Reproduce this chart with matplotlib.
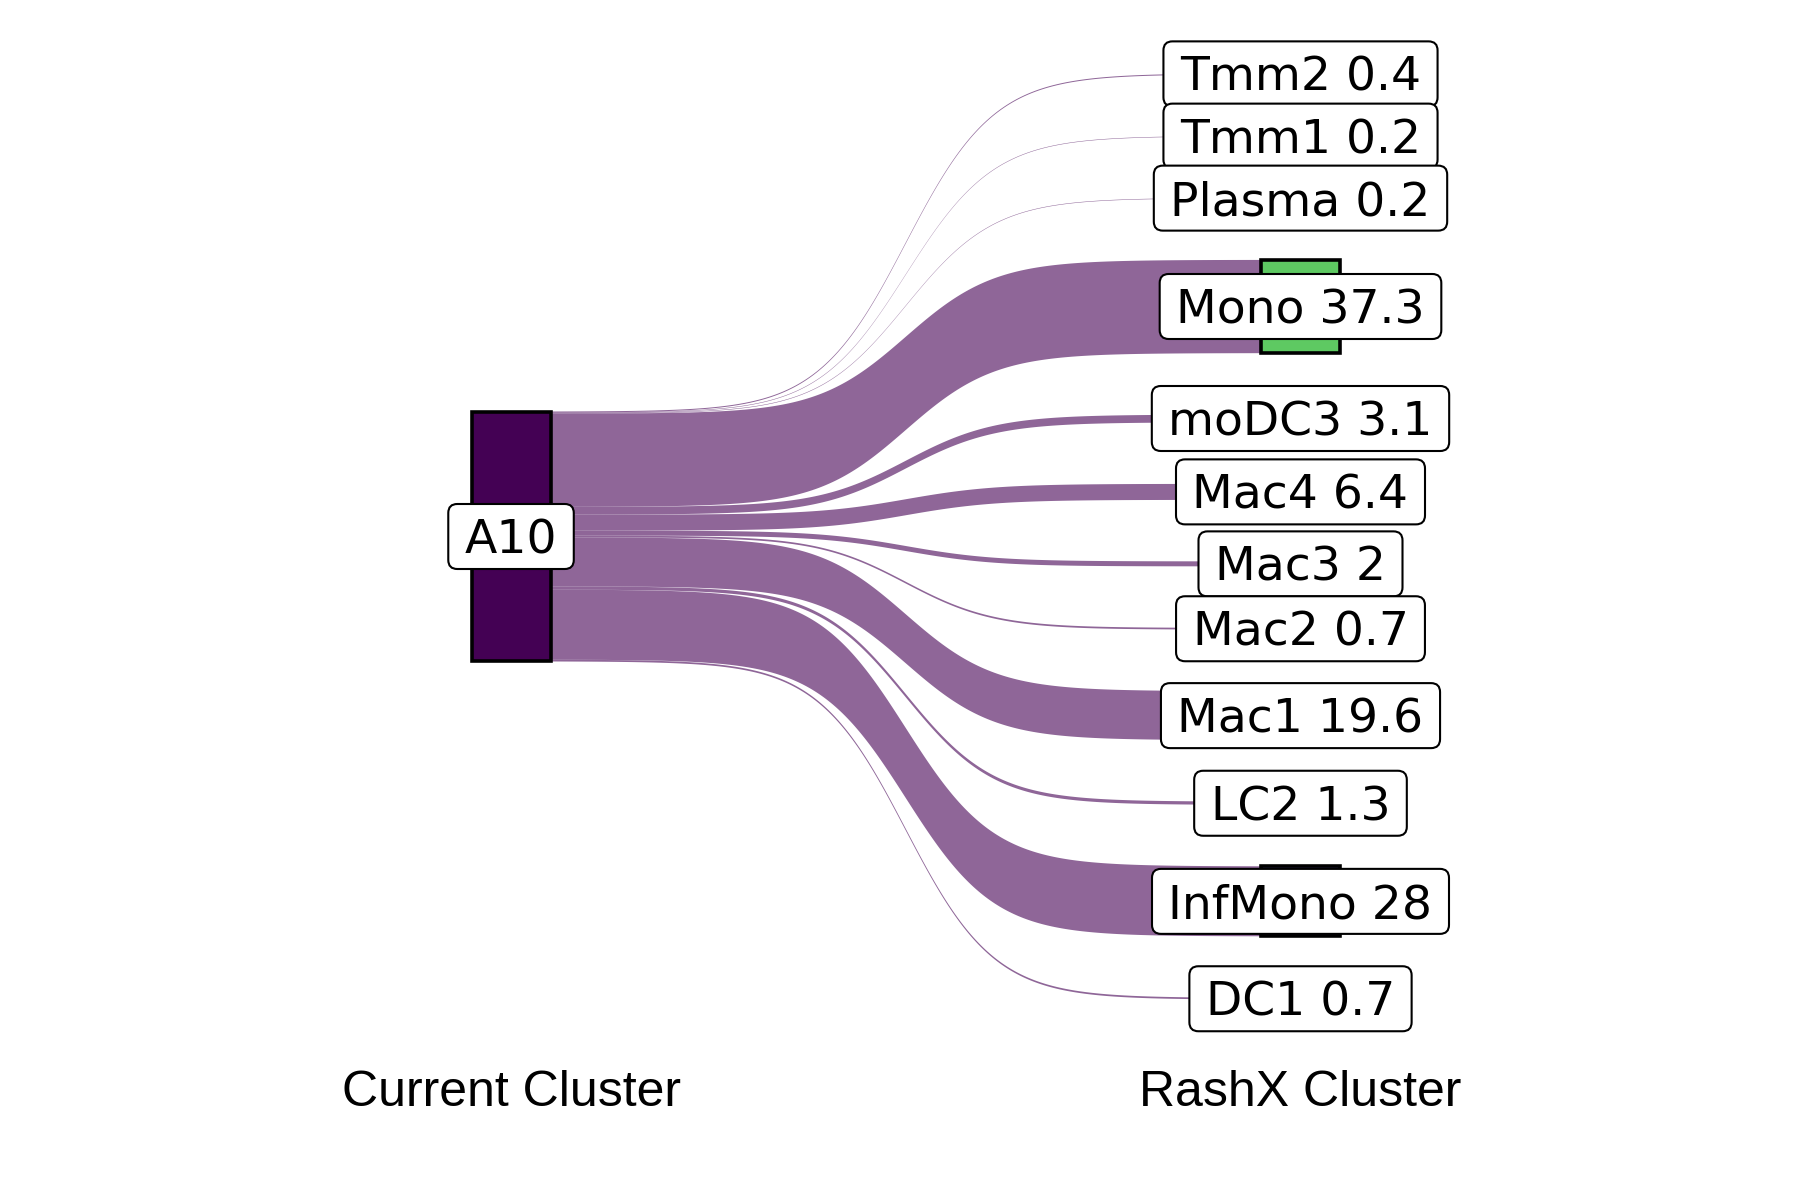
import numpy as np
import matplotlib.pyplot as plt
from matplotlib.patches import Rectangle, FancyBboxPatch
from matplotlib.transforms import IdentityTransform, offset_copy

# data
source = "A10"
targets = ["Tmm2", "Tmm1", "Plasma", "Mono", "moDC3", "Mac4", "Mac3",
           "Mac2", "Mac1", "LC2", "InfMono", "DC1"]
pct = [0.4, 0.2, 0.2, 37.3, 3.1, 6.4, 2.0, 0.7, 19.6, 1.3, 28.0, 0.7]
axis_titles = ["Current Cluster", "RashX Cluster"]

# node colours: viridis over all nodes in alphabetical order
node_order = sorted([source] + targets, key=str.lower)
cmap = plt.get_cmap("viridis")
node_col = {n: cmap(i / (len(node_order) - 1)) for i, n in enumerate(node_order)}

gap = 24.6      # space between right-hand nodes
w = 0.1         # node width
flow_col = "#440154"


def sigmoid(x0, x1, y0, y1, smooth=8, n=300):
    t = np.linspace(-smooth, smooth, n)
    s = np.exp(t) / (np.exp(t) + 1)
    return x0 + (t + smooth) / (2 * smooth) * (x1 - x0), y0 + s * (y1 - y0)


vals = np.array(pct)
total = vals.sum()
left_top = total / 2 - np.concatenate([[0], np.cumsum(vals)[:-1]])
left_bot = left_top - vals
span = total + gap * (len(vals) - 1)
right_top = span / 2 - np.concatenate([[0], np.cumsum(vals + gap)[:-1]])
right_bot = right_top - vals

fig = plt.figure(figsize=(18, 12), dpi=100)
ax = fig.add_axes([0, 0, 1, 1])
ax.set_xlim(0.3527, 2.6327)
ax.set_ylim(-265.4, 214.6)
ax.axis("off")

# flows
for i in range(len(vals)):
    xt, yt = sigmoid(1 + w / 2, 2 - w / 2, left_top[i], right_top[i])
    xb, yb = sigmoid(1 + w / 2, 2 - w / 2, left_bot[i], right_bot[i])
    ax.fill(np.concatenate([xt, xb[::-1]]), np.concatenate([yt, yb[::-1]]),
            color=flow_col, alpha=0.6, lw=0, zorder=1)

# nodes
ax.add_patch(Rectangle((1 - w / 2, -total / 2), w, total, fc=node_col[source],
                       ec="black", lw=2.6, zorder=2))
for i, name in enumerate(targets):
    ax.add_patch(Rectangle((2 - w / 2, right_bot[i]), w, vals[i],
                           fc=node_col[name], ec="black", lw=2.6, zorder=2))

# labels
label_pos = [(1, 0, source)]
for i, name in enumerate(targets):
    label_pos.append((2, (right_top[i] + right_bot[i]) / 2, f"{name} {pct[i]:g}"))

texts = []
for x, y, s in label_pos:
    tr = offset_copy(ax.transData, fig=fig, x=0, y=-17, units="dots")
    t = ax.text(x, y, s, ha="center", va="baseline", fontsize=34,
                family="DejaVu Sans", color="black", transform=tr, zorder=4)
    texts.append((x, y, t))

fig.canvas.draw()
renderer = fig.canvas.get_renderer()
for x, y, t in texts:
    bb = t.get_window_extent(renderer)
    cx, cy = ax.transData.transform((x, y))
    bw = bb.width + 33
    bh = 65
    box = FancyBboxPatch((cx - bw / 2, cy - bh / 2), bw, bh,
                         boxstyle="round,pad=0,rounding_size=9",
                         transform=IdentityTransform(), fc="white",
                         ec="black", lw=1.5, zorder=3)
    ax.add_patch(box)

# axis titles
for x, s in zip([1, 2], axis_titles):
    ax.text(x, -227.8, s, ha="center", va="baseline", fontsize=36,
            family="Liberation Sans", color="black")

fig.savefig("out.png", dpi=100, facecolor="white")
